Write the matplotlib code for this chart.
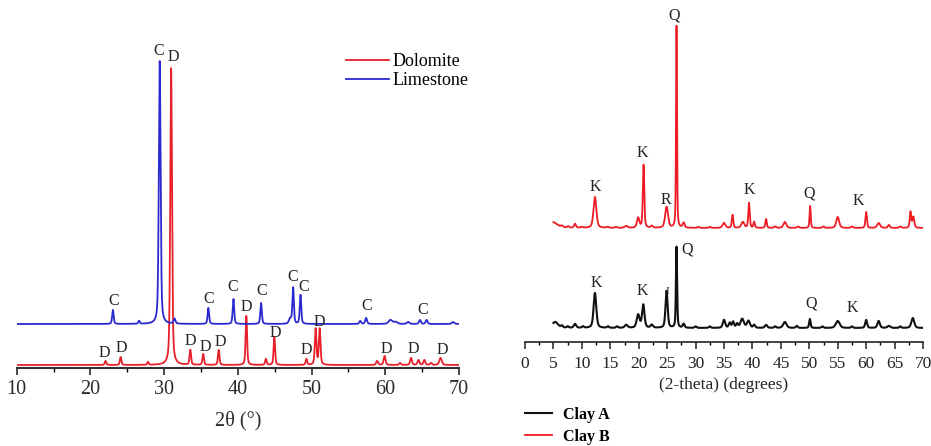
import matplotlib
matplotlib.use("Agg")
import matplotlib.pyplot as plt
import numpy as np

plt.rcParams['font.family'] = ['Liberation Serif', 'DejaVu Serif']

# ---- left panel: limestone / dolomite (peak position, height, half width)
lime_peaks = [(23.05, 14, 0.12), (26.6, 3, 0.12), (29.4, 263, 0.14),
              (31.4, 5, 0.15), (36.0, 16, 0.12), (39.4, 25, 0.12),
              (43.15, 21, 0.12), (47.1, 5, 0.2), (47.5, 36, 0.12),
              (48.5, 29, 0.12), (56.6, 3, 0.15), (57.4, 6, 0.15),
              (60.7, 4, 0.3), (61.4, 2, 0.3), (63.1, 2, 0.2),
              (64.7, 4, 0.15), (65.6, 4, 0.15), (69.2, 2, 0.2)]
lime_base = 44
dolo_peaks = [(22.05, 4, 0.12), (24.1, 8, 0.12), (27.8, 3, 0.1),
              (30.95, 297, 0.14), (33.55, 15, 0.12), (35.3, 11, 0.12),
              (37.4, 15, 0.12), (41.15, 49, 0.12), (43.8, 6, 0.12),
              (44.95, 28, 0.12), (49.3, 6, 0.12), (50.55, 36, 0.13),
              (51.1, 36, 0.13), (58.9, 4, 0.15), (59.9, 9, 0.15),
              (62.0, 2, 0.15), (63.5, 7, 0.15), (64.5, 5, 0.15),
              (65.3, 5, 0.15), (66.2, 2, 0.15), (67.5, 7, 0.2)]
dolo_base = 3
# label position (2theta, height above its baseline, letter)
lime_labels = [(29.2, 273, 'C'), (23.1, 23, 'C'), (36.0, 25, 'C'),
               (39.3, 37, 'C'), (43.3, 33, 'C'), (47.5, 47, 'C'),
               (48.9, 37, 'C'), (57.5, 18, 'C'), (65.1, 14, 'C')]
dolo_labels = [(31.2, 308, 'D'), (21.9, 12, 'D'), (24.2, 17, 'D'),
               (33.6, 24, 'D'), (35.6, 18, 'D'), (37.6, 23, 'D'),
               (41.2, 58, 'D'), (45.1, 32, 'D'), (49.3, 15, 'D'),
               (51.0, 43, 'D'), (60.1, 16, 'D'), (63.8, 16, 'D'),
               (67.8, 15, 'D')]

# ---- right panel: clay A / clay B
clayb_peaks = [(4.8, 6, 1.0), (6.5, 1.5, 0.2), (7.6, 1.5, 0.2),
               (8.8, 4, 0.2), (10.0, 1, 0.2), (12.3, 31, 0.3),
               (14.5, 1, 0.2), (16.0, 1, 0.2), (17.8, 2, 0.3),
               (19.9, 10, 0.25), (20.85, 63, 0.15), (22.3, 2, 0.2),
               (24.9, 21, 0.3), (26.65, 202, 0.1), (27.9, 5, 0.2),
               (30.5, 1, 0.2), (32.5, 1, 0.2), (35.0, 5, 0.3),
               (36.5, 13, 0.15), (38.3, 6, 0.3), (39.4, 25, 0.15),
               (40.3, 6, 0.15), (42.4, 9, 0.15), (44.0, 1.5, 0.2),
               (45.7, 6, 0.3), (48.0, 1.5, 0.2), (50.15, 22, 0.12),
               (52.5, 1.5, 0.2), (55.0, 11, 0.3), (57.5, 1.5, 0.2),
               (60.0, 16, 0.15), (62.2, 5, 0.3), (64.0, 3, 0.2),
               (66.0, 1.5, 0.2), (67.8, 16, 0.15), (68.3, 11, 0.2)]
clayb_base = 114
claya_peaks = [(5.3, 6, 0.6), (6.5, 2, 0.2), (7.5, 1.5, 0.2),
               (8.8, 4, 0.25), (10.2, 1.5, 0.2), (12.3, 35, 0.28),
               (14.6, 1.5, 0.2), (16.2, 1.5, 0.2), (17.8, 3, 0.3),
               (19.9, 13, 0.3), (20.8, 23, 0.25), (22.3, 3, 0.25),
               (24.9, 37, 0.22), (26.65, 81, 0.12), (27.9, 4, 0.2),
               (30.0, 1.5, 0.2), (32.5, 1.5, 0.2), (35.0, 8, 0.25),
               (36.0, 5, 0.2), (36.6, 6, 0.2), (37.3, 4, 0.2),
               (38.2, 9, 0.35), (39.3, 7, 0.3), (40.3, 3, 0.2),
               (42.4, 3, 0.25), (44.0, 1.5, 0.2), (45.7, 6, 0.35),
               (47.8, 2, 0.2), (50.1, 9, 0.15), (52.3, 1.5, 0.2),
               (55.0, 7, 0.4), (57.5, 1.5, 0.2), (60.0, 8, 0.2),
               (62.2, 7, 0.25), (64.0, 2, 0.3), (66.0, 1.5, 0.2),
               (68.2, 10, 0.3)]
claya_base = 14
clayb_labels = [(12.4, 41, 'K'), (20.7, 75, 'K'), (24.8, 28, 'R'),
                (26.2, 213, 'Q'), (39.4, 38, 'K'), (50.0, 35, 'Q'),
                (58.6, 27, 'K')]
claya_labels = [(12.6, 45, 'K'), (20.7, 37, 'K'), (25.1, 36, 'I'),
                (28.5, 78, 'Q'), (50.4, 25, 'Q'), (57.6, 20, 'K')]


def profile(x, peaks, base):
    y = np.full_like(x, float(base))
    for pos, h, w in peaks:
        lor = 1.0 / (1.0 + ((x - pos) / w) ** 2)
        gau = np.exp(-np.log(2) * ((x - pos) / w) ** 2)
        y += h * (0.45 * lor + 0.55 * gau)
    return y


W, H = 931, 446
fig = plt.figure(figsize=(W / 100, H / 100), dpi=100)

# left axes, positions in pixels
ax1 = fig.add_axes([16.7 / W, (H - 368) / H, (459 - 16.7) / W, 323 / H])
x1 = np.linspace(10, 70, 6000)
ax1.plot(x1, profile(x1, dolo_peaks, dolo_base), color='#e8202a', lw=1.3,
         label='Dolomite')
ax1.plot(x1, profile(x1, lime_peaks, lime_base), color='#2a2ad0', lw=1.3,
         label='Limestone')
for xp, yp, s in lime_labels:
    ax1.text(xp, lime_base + yp, s, ha='center', va='center',
             fontsize=11.5, color='#222222')
for xp, yp, s in dolo_labels:
    ax1.text(xp, dolo_base + yp, s, ha='center', va='center',
             fontsize=11.5, color='#222222')
ax1.set_xlim(10, 70)
ax1.set_ylim(0, 323)
ax1.set_xticks(range(10, 71, 10))
ax1.set_xticks(range(15, 70, 10), minor=True)
ax1.tick_params(axis='x', which='major', length=5, width=1.2,
                labelsize=14.5, colors='#2a2a2a', pad=4)
ax1.tick_params(axis='x', which='minor', length=3, width=1.0)
ax1.set_yticks([])
for s in ('top', 'left', 'right'):
    ax1.spines[s].set_visible(False)
ax1.spines['bottom'].set_linewidth(1.5)
ax1.spines['bottom'].set_color('#333333')
ax1.set_xlabel('2θ (°)', fontsize=14.5, color='#2a2a2a', labelpad=8)
ax1.legend(loc='upper left', bbox_to_anchor=(346 / W, (H - 53) / H),
           bbox_transform=fig.transFigure, frameon=False,
           fontsize=13, handlelength=2.4, handletextpad=0.15,
           labelspacing=0.12, borderpad=0, borderaxespad=0)

# right axes
ax2 = fig.add_axes([525 / W, (H - 342) / H, (923 - 525) / W, 332 / H])
x2 = np.linspace(5, 70, 6000)
lb, = ax2.plot(x2, profile(x2, clayb_peaks, clayb_base), color='#ee1c24',
               lw=1.3)
la, = ax2.plot(x2, profile(x2, claya_peaks, claya_base), color='#111111',
               lw=1.5)
for xp, yp, s in clayb_labels:
    ax2.text(xp, clayb_base + yp, s, ha='center', va='center',
             fontsize=11.5, color='#222222')
for xp, yp, s in claya_labels:
    ax2.text(xp, claya_base + yp, s, ha='center', va='center',
             fontsize=11.5 if s != 'I' else 8, color='#222222')
ax2.set_xlim(0, 70)
ax2.set_ylim(0, 332)
ax2.set_xticks(range(0, 71, 5))
ax2.set_xticks(np.arange(2.5, 70, 5), minor=True)
ax2.tick_params(axis='x', which='major', length=5, width=1.1,
                labelsize=12.5, colors='#222222', pad=5)
ax2.tick_params(axis='x', which='minor', length=2.5, width=1.0)
ax2.set_yticks([])
for s in ('top', 'left', 'right'):
    ax2.spines[s].set_visible(False)
ax2.spines['bottom'].set_linewidth(1.2)
ax2.spines['bottom'].set_color('#222222')
ax2.set_xlabel('(2-theta) (degrees)', fontsize=12.5, color='#222222',
               labelpad=4)
fig.legend([la, lb], ['Clay A', 'Clay B'], loc='upper left',
           bbox_to_anchor=(525 / W, (H - 407) / H), frameon=False,
           prop={'size': 11.5, 'weight': 'bold'}, handlelength=1.7,
           handletextpad=0.7, labelspacing=0.35, borderpad=0,
           borderaxespad=0)

fig.savefig('out.png', dpi=100)
